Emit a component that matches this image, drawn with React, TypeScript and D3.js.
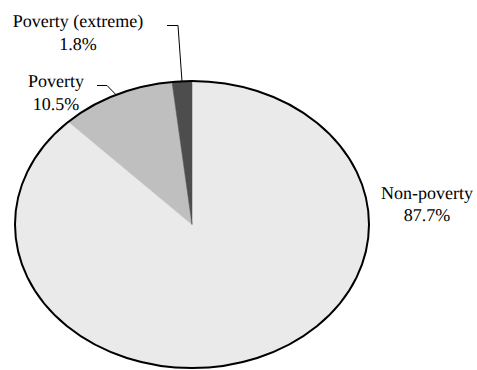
import React from "react";
import * as d3 from "d3";

const categories = ["Non-poverty", "Poverty", "Poverty (extreme)"];
const values = [87.7, 10.5, 1.8];
const valueLabels = ["87.7%", "10.5%", "1.8%"];

const W = 477;
const H = 370;
const cx = 192;
const cy = 224.5;
const rx = 177;
const ry = 143.5;
const colors = ["#EAEAEA", "#BFBFBF", "#4D4D4D"];

const labelLayout = [
  { x: 427, y: 198.5, leader: null as null | { hx0: number; hx1: number; hy: number } },
  { x: 56, y: 87, leader: { hx0: 97, hx1: 107, hy: 85.5 } },
  { x: 78, y: 27, leader: { hx0: 167, hx1: 178, hy: 25.5 } },
];

const textStyle = {
  fontFamily: "Liberation Serif",
  fontSize: "18px",
  textRendering: "geometricPrecision" as const,
};

export default function App() {
  const pie = d3
    .pie<number>()
    .sort(null)
    .value((d) => d)
    .startAngle(0)
    .endAngle(2 * Math.PI);
  const arcs = pie(values);
  const arc = d3.arc<d3.PieArcDatum<number>>().innerRadius(0).outerRadius(1);

  const onEllipse = (a: number) => [cx + rx * Math.sin(a), cy - ry * Math.cos(a)];

  return (
    <svg
      width={W}
      height={H}
      style={{ position: "absolute", left: 0, top: 0, background: "#fff" }}
    >
      <g transform={`translate(${cx},${cy}) scale(${rx},${ry})`}>
        {arcs.map((a, i) => (
          <path
            key={i}
            d={arc(a) || ""}
            fill={colors[i]}
            stroke={colors[i]}
            strokeWidth={0.5}
            vectorEffect="non-scaling-stroke"
          />
        ))}
      </g>
      <ellipse cx={cx} cy={cy} rx={rx} ry={ry} fill="none" stroke="#000" strokeWidth={2} />
      {arcs.map((a, i) => {
        const L = labelLayout[i];
        const mid = (a.startAngle + a.endAngle) / 2;
        const [ex, ey] = onEllipse(mid);
        return (
          <g key={i}>
            {L.leader && (
              <polyline
                points={`${L.leader.hx0},${L.leader.hy} ${L.leader.hx1},${L.leader.hy} ${ex},${ey}`}
                fill="none"
                stroke="#000"
                strokeWidth={1}
              />
            )}
            <text x={L.x} y={L.y} textAnchor="middle" fill="#000" style={textStyle}>
              {categories[i]}
            </text>
            <text x={L.x} y={L.y + 22.5} textAnchor="middle" fill="#000" style={textStyle}>
              {valueLabels[i]}
            </text>
          </g>
        );
      })}
    </svg>
  );
}
